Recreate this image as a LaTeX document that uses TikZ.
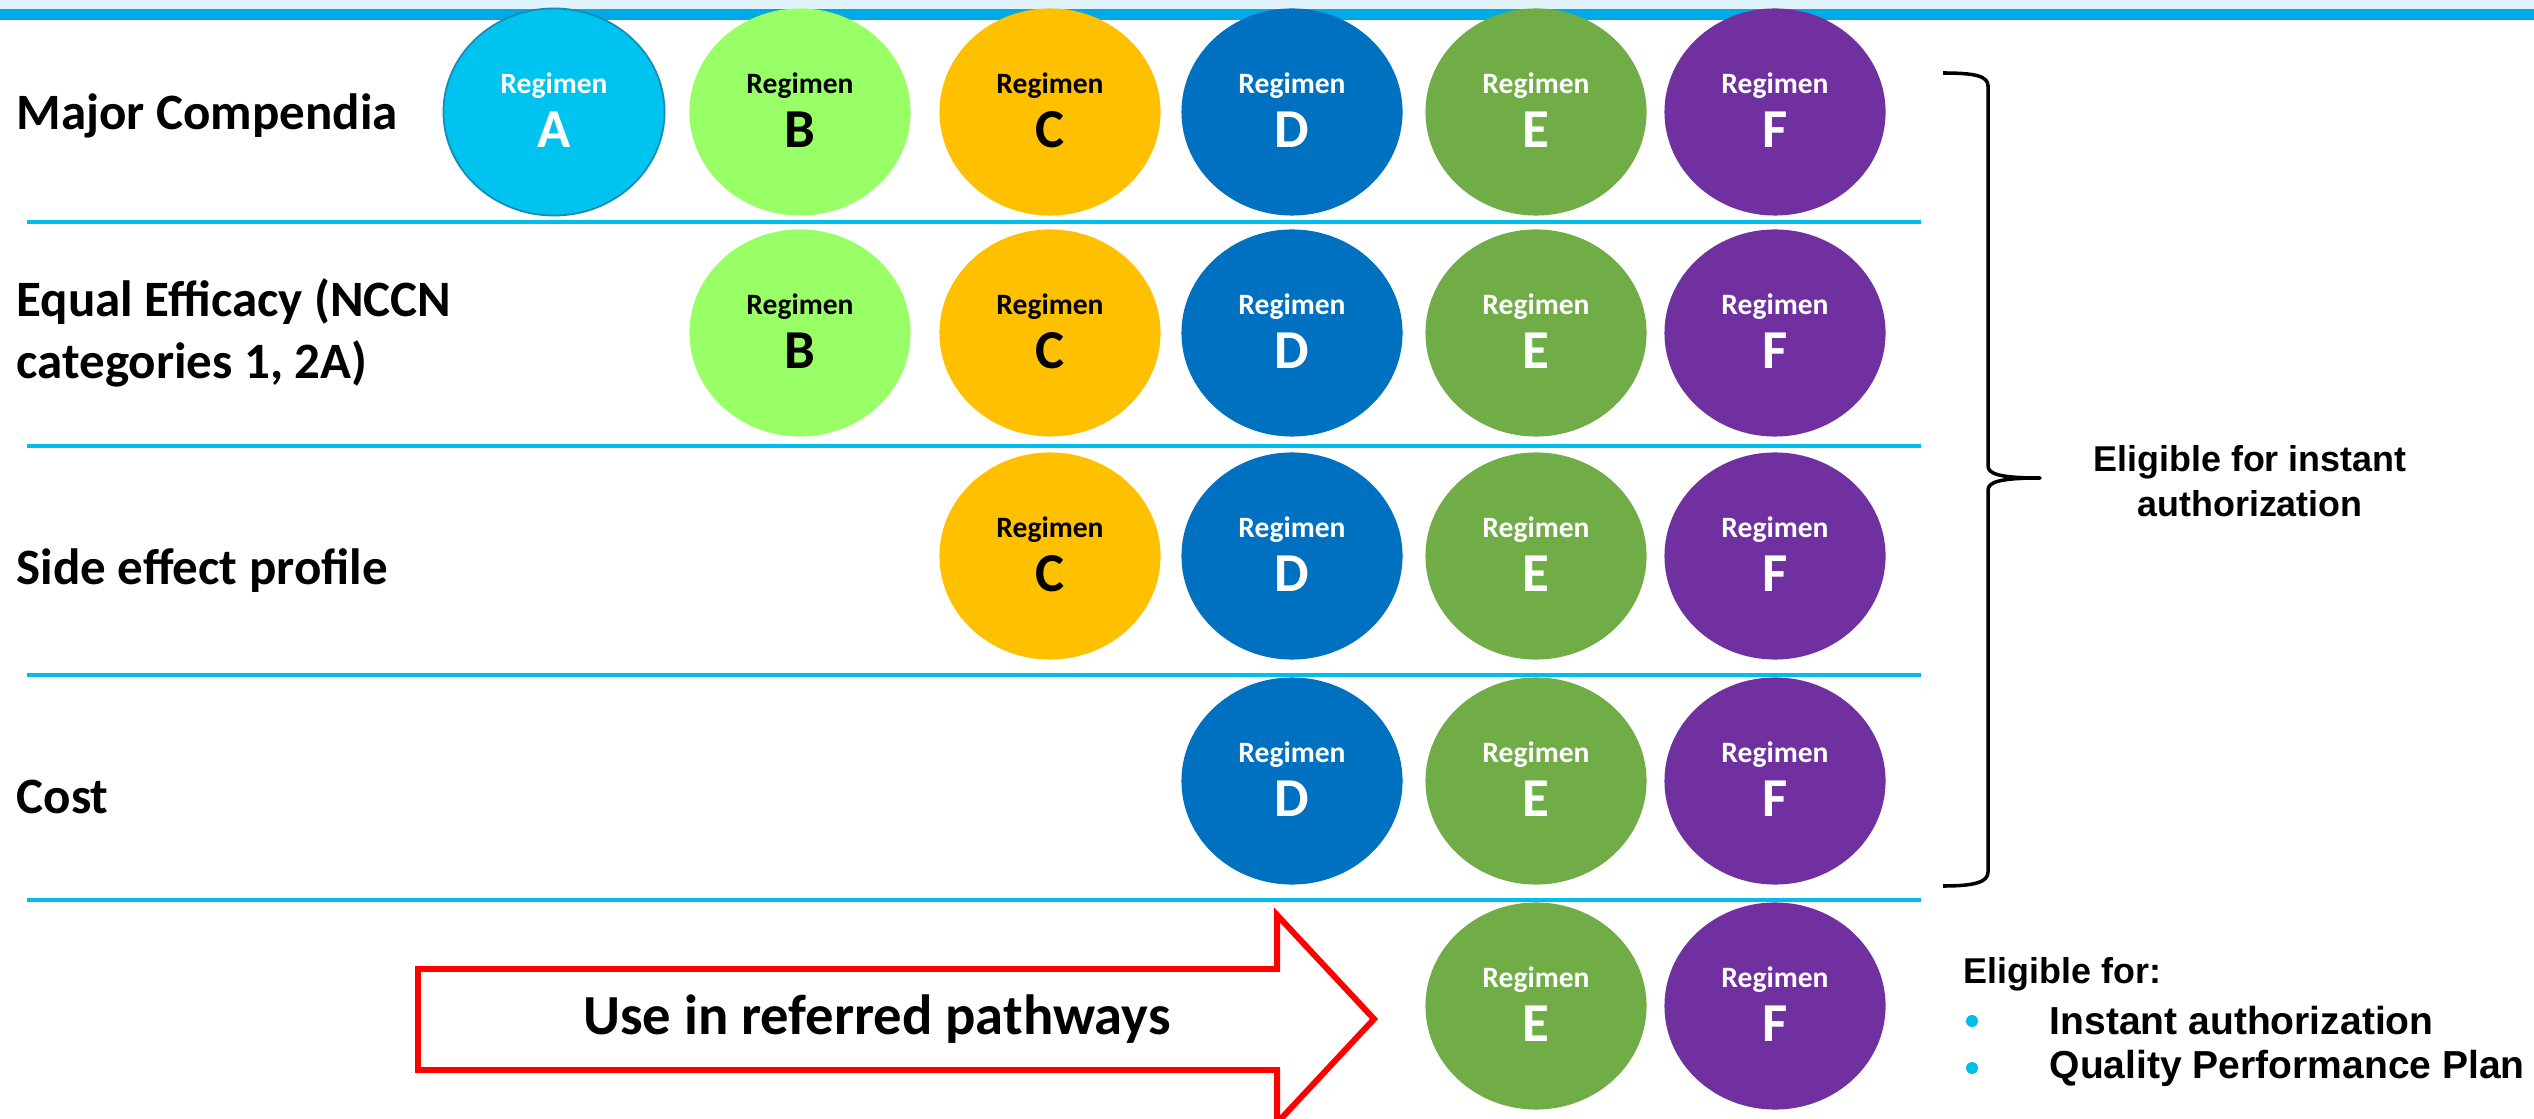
\documentclass[tikz,border=0pt]{standalone}
\usepackage{fontspec}
\setmainfont{Carlito}
\newfontfamily\arialfont{Liberation Sans}
\usetikzlibrary{shapes.geometric}
\definecolor{cA}{RGB}{0,195,240}
\definecolor{cAb}{RGB}{20,140,180}
\definecolor{cB}{RGB}{153,255,102}
\definecolor{cC}{RGB}{255,192,0}
\definecolor{cD}{RGB}{0,112,192}
\definecolor{cE}{RGB}{112,173,71}
\definecolor{cF}{RGB}{112,48,160}
\definecolor{sepblue}{RGB}{0,190,235}
\definecolor{barblue}{RGB}{0,170,230}
\definecolor{barlight}{RGB}{225,244,252}
\definecolor{arrred}{RGB}{255,0,0}
\tikzset{
  reg/.style={ellipse, minimum width=2.21cm, minimum height=2.07cm, inner sep=0pt, draw=none},
  regtxt/.style={anchor=base, inner sep=0pt, font=\fontsize{8.4}{10}\selectfont\bfseries},
  reglet/.style={anchor=base, inner sep=0pt, font=\fontsize{15.6}{18}\selectfont\bfseries},
  rowlab/.style={anchor=west, align=left, inner sep=0pt, font=\fontsize{14.5}{17.6}\selectfont\bfseries},
  sepline/.style={draw=sepblue, line width=0.9pt},
  arial/.style={inner sep=0pt, font=\arialfont\fontsize{10.2}{12.8}\selectfont\bfseries},
  arialb/.style={inner sep=0pt, font=\arialfont\fontsize{11.1}{13}\selectfont\bfseries},
}
\newcommand\regimen[5]{%
  \node[reg, fill=#3] (#1) at (#2) {};
  \node[regtxt, text=#4] (#1t) at ([yshift=5.4pt]#1.center) {Regimen};
  \node[reglet, text=#4] (#1l) at ([yshift=-10.2pt]#1.center) {#5};
}
\begin{document}
\begin{tikzpicture}[x=0.01cm,y=-0.01cm]
\useasboundingbox (0,0) rectangle (2534,1119);
\fill[white] (0,0) rectangle (2534,1119);
% top bar
\fill[barlight] (0,0) rectangle (2534,9);
\fill[barblue] (0,9) rectangle (2534,20);
% separators
\coordinate (s1a) at (27,222); \coordinate (s1b) at (1921,222);
\coordinate (s2a) at (27,446); \coordinate (s2b) at (1921,446);
\coordinate (s3a) at (27,675); \coordinate (s3b) at (1921,675);
\coordinate (s4a) at (27,900); \coordinate (s4b) at (1921,900);
\draw[sepline] (s1a) -- (s1b);
\draw[sepline] (s2a) -- (s2b);
\draw[sepline] (s3a) -- (s3b);
\draw[sepline] (s4a) -- (s4b);
% row labels
\node[rowlab] (l1) at (16,116) {Major Compendia};
\node[rowlab] (l2) at (16,333) {Equal Efficacy (NCCN\\categories 1, 2A)};
\node[rowlab] (l3) at (16,571) {Side effect profile};
\node[rowlab] (l4) at (16,797) {Cost};
% row 1
\node[reg, fill=cA, draw=cAb, line width=0.5pt] (r1a) at (554,112) {};
\node[regtxt, text=white] (r1at) at ([yshift=5.4pt]r1a.center) {Regimen};
\node[reglet, text=white] (r1al) at ([yshift=-10.2pt]r1a.center) {A};
\regimen{r1b}{800,112}{cB}{black}{B}
\regimen{r1c}{1050,112}{cC}{black}{C}
\regimen{r1d}{1292,112}{cD}{white}{D}
\regimen{r1e}{1536,112}{cE}{white}{E}
\regimen{r1f}{1775,112}{cF}{white}{F}
% row 2
\regimen{r2b}{800,333}{cB}{black}{B}
\regimen{r2c}{1050,333}{cC}{black}{C}
\regimen{r2d}{1292,333}{cD}{white}{D}
\regimen{r2e}{1536,333}{cE}{white}{E}
\regimen{r2f}{1775,333}{cF}{white}{F}
% row 3
\regimen{r3c}{1050,556}{cC}{black}{C}
\regimen{r3d}{1292,556}{cD}{white}{D}
\regimen{r3e}{1536,556}{cE}{white}{E}
\regimen{r3f}{1775,556}{cF}{white}{F}
% row 4
\regimen{r4d}{1292,781}{cD}{white}{D}
\regimen{r4e}{1536,781}{cE}{white}{E}
\regimen{r4f}{1775,781}{cF}{white}{F}
% row 5
\regimen{r5e}{1536,1006}{cE}{white}{E}
\regimen{r5f}{1775,1006}{cF}{white}{F}
% brace
\coordinate (bt) at (1943,73);
\coordinate (bm) at (2040,478);
\coordinate (bb) at (1943,886);
\draw[line width=1pt, line join=round] (bt) .. controls (1975,73) and (1988,76) .. (1988,86)
  -- (1988,466) .. controls (1988,474) and (2000,478) .. (bm)
  .. controls (2000,478) and (1988,482) .. (1988,490)
  -- (1988,872) .. controls (1988,882) and (1975,886) .. (bb);
\node[arial, align=center] (elig) at (2250,481) {Eligible for instant\\authorization};
% list
\node[arial, anchor=west] (eligfor) at (1963,974) {Eligible for:};
\fill[sepblue] (1972,1021) circle (0.06cm);
\fill[sepblue] (1972,1068) circle (0.06cm);
\node[arialb, anchor=west] (li1) at (2049,1021) {Instant authorization};
\node[arialb, anchor=west] (li2) at (2049,1068) {Quality Performance Plan};
% arrow
\draw[arrred, line width=1.7pt, line join=miter] (418,969) -- (1277,969) -- (1277,915) -- (1374,1019) -- (1277,1123) -- (1277,1070) -- (418,1070) -- cycle;
\node[inner sep=0pt, font=\fontsize{16.1}{19}\selectfont\bfseries] (use) at (877,1019) {Use in referred pathways};
\end{tikzpicture}
\end{document}
